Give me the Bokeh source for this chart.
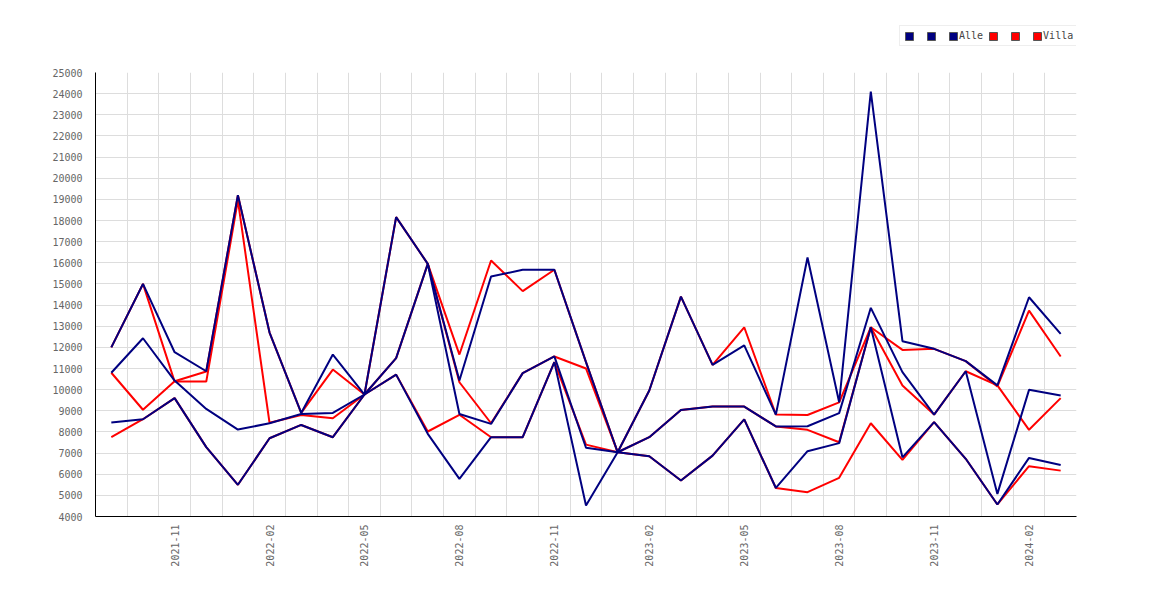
from bokeh.plotting import figure
from bokeh.layouts import column
from bokeh.models import (Range1d, FixedTicker, Legend, LegendItem)
from bokeh.embed import file_html
from bokeh.resources import INLINE
import math

months = ["2021-09", "2021-10", "2021-11", "2021-12",
          "2022-01", "2022-02", "2022-03", "2022-04", "2022-05", "2022-06",
          "2022-07", "2022-08", "2022-09", "2022-10", "2022-11", "2022-12",
          "2023-01", "2023-02", "2023-03", "2023-04", "2023-05", "2023-06",
          "2023-07", "2023-08", "2023-09", "2023-10", "2023-11", "2023-12",
          "2024-01", "2024-02", "2024-03"]

label_every = 3
label_first = 2

alle_1 = [12000, 15000, 11770, 10870, 19200, 12700, 8900, 11660, 9770, 18160, 15950,
          10430, 15350, 15670, 15670, 11300, 7040, 9960, 14400, 11170, 12090, 8820,
          16250, 9400, 24100, 12290, 11930, 11350, 10200, 14370, 12640]
alle_2 = [10800, 12430, 10430, 9090, 8110, 8410, 8850, 8900, 9770, 11490, 15950,
          8850, 8380, 10780, 11570, 7250, 7040, 7750, 9040, 9200, 9200, 8260,
          8270, 8890, 13870, 10830, 8820, 10870, 5070, 9990, 9720]
alle_3 = [8450, 8600, 9600, 7280, 5500, 7700, 8330, 7750, 9770, 10710, 7910,
          5780, 7750, 7750, 11300, 4520, 7040, 6850, 5700, 6880, 8590, 5350,
          7090, 7470, 12950, 6800, 8460, 6730, 4570, 6770, 6440]

villa_1 = [12000, 15000, 10380, 10380, 18950, 8430, 8800, 8650, 9770, 18160, 15950,
           11660, 16110, 14660, 15670, 11300, 7040, 9960, 14400, 11170, 12950, 8820,
           8800, 9400, 12950, 11880, 11930, 11350, 10150, 13740, 11570]
villa_2 = [10800, 9050, 10400, 10860, 19200, 12700, 8900, 10950, 9770, 11490, 15950,
           10350, 8410, 10780, 11570, 11000, 7040, 7750, 9040, 9200, 9200, 8260,
           8100, 7510, 12950, 10200, 8820, 10870, 10200, 8100, 9600]
villa_3 = [7750, 8600, 9600, 7280, 5500, 7700, 8330, 7750, 9770, 10710, 8020,
           8810, 7750, 7750, 11300, 7400, 7040, 6850, 5700, 6880, 8590, 5350,
           5150, 5830, 8410, 6680, 8460, 6730, 4570, 6380, 6170]

legend_labels = [" ", " ", "Alle", " ", " ", "Villa"]

y_min, y_max, y_step = 4000, 25000, 1000

NAVY = "#000080"
RED = "#ff0000"
FONT = "DejaVu Sans Mono"

n = len(months)
xs = list(range(n))

# ---- legend strip (separate figure so the legend is not clipped) ----
leg_fig = figure(width=1154, height=62, output_backend="svg", toolbar_location=None,
                 x_range=Range1d(0, 1), y_range=Range1d(0, 1),
                 x_axis_location=None, y_axis_location=None, min_border=0)
leg_fig.grid.visible = False
leg_fig.outline_line_color = None
nan = float("nan")
sw_navy = leg_fig.quad(left=[nan], right=[nan], top=[nan], bottom=[nan],
                       fill_color=NAVY, line_color="#555555")
sw_red = leg_fig.quad(left=[nan], right=[nan], top=[nan], bottom=[nan],
                      fill_color=RED, line_color="#555555")
swatches = [sw_navy, sw_navy, sw_navy, sw_red, sw_red, sw_red]
items = [LegendItem(label=lab, renderers=[r]) for lab, r in zip(legend_labels, swatches)]
legend = Legend(items=items, orientation="horizontal", location=(804, 16),
                glyph_width=10, glyph_height=10, label_standoff=1, spacing=5,
                padding=4, margin=0, label_height=11, label_width=6,
                label_text_font=FONT, label_text_font_size="10px",
                label_text_color="#444444", border_line_color="#dddddd",
                background_fill_color="white", background_fill_alpha=1)
leg_fig.add_layout(legend)

# ---- main chart ----
p = figure(width=1154, height=522, output_backend="svg", toolbar_location=None,
           x_range=Range1d(-0.5, n - 0.5), y_range=Range1d(y_min, y_max),
           min_border_left=95, min_border_right=78, min_border_top=10,
           min_border_bottom=68)
p.outline_line_color = None
p.background_fill_color = "white"
p.border_fill_color = "white"

p.xgrid.ticker = FixedTicker(ticks=[i - 0.5 for i in range(n + 1)])
p.ygrid.ticker = FixedTicker(ticks=list(range(y_min, y_max + 1, y_step)))
for g in (p.xgrid, p.ygrid):
    g.grid_line_color = "#dddddd"
    g.grid_line_width = 1

label_idx = list(range(label_first, n, label_every))
p.xaxis.ticker = FixedTicker(ticks=label_idx)
p.xaxis.major_label_overrides = {i: months[i] for i in label_idx}
p.xaxis.major_label_orientation = math.pi / 2
p.yaxis.ticker = FixedTicker(ticks=list(range(y_min, y_max + 1, y_step)))
for ax in (p.xaxis, p.yaxis):
    ax.axis_line_color = "black"
    ax.axis_line_width = 1
    ax.major_tick_line_color = None
    ax.minor_tick_line_color = None
    ax.major_label_text_font = FONT
    ax.major_label_text_font_size = "10px"
    ax.major_label_text_color = "#666666"
    ax.major_label_standoff = 7
p.xaxis.major_label_standoff = 2

for ys in (villa_1, villa_2, villa_3):
    p.line(xs, ys, line_color=RED, line_width=2)
for ys in (alle_1, alle_2, alle_3):
    p.line(xs, ys, line_color=NAVY, line_width=2)

layout = column(leg_fig, p, spacing=0)
open("out.html", "w").write(file_html(layout, INLINE))
